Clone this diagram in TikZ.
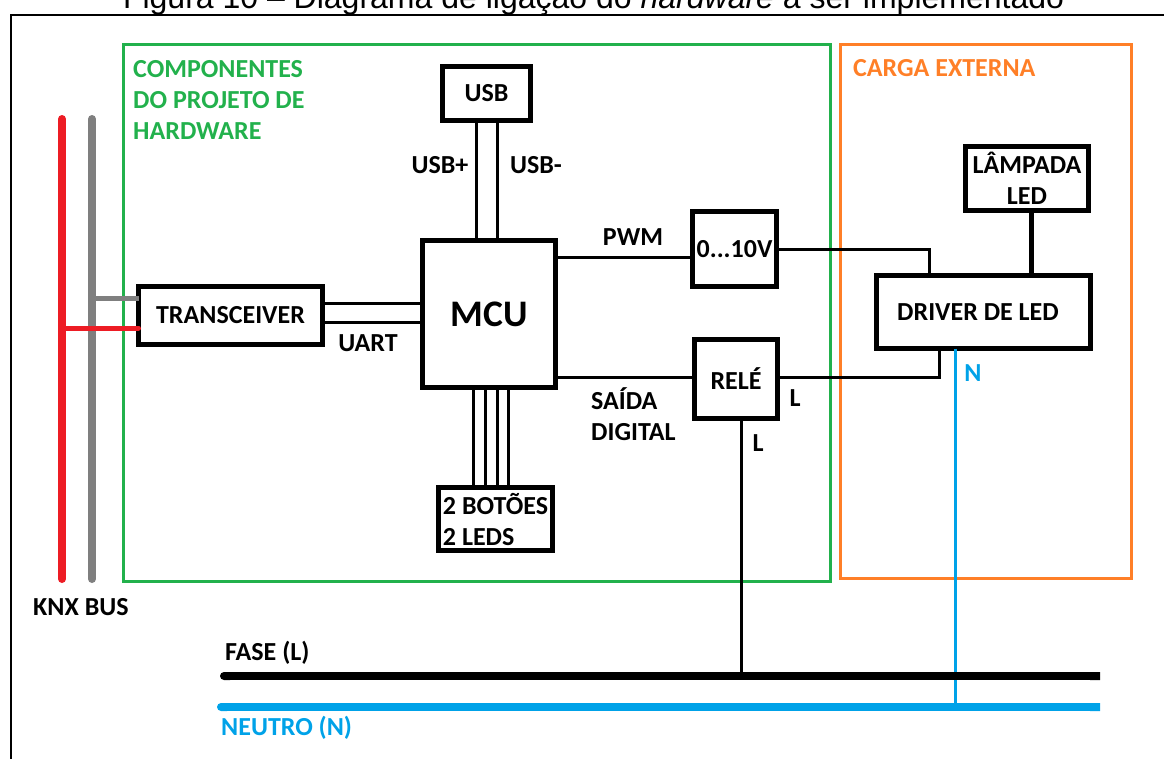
\documentclass[tikz,border=0pt]{standalone}
\usepackage{fontspec}
\setmainfont{Carlito}
\newfontfamily\capfont{Liberation Sans}
\usetikzlibrary{arrows.meta}
\definecolor{pgreen}{RGB}{34,177,76}
\definecolor{porange}{RGB}{255,127,39}
\definecolor{pblue}{RGB}{0,162,232}
\definecolor{pred}{RGB}{237,28,36}
\definecolor{pgray}{RGB}{127,127,127}
\newcommand{\labfont}{\bfseries\fontsize{26}{31}\selectfont}
\begin{document}
\begin{tikzpicture}[x=1pt,y=-1pt,
  box/.style={draw, line width=5pt, inner sep=0pt, outer sep=0pt, font=\labfont},
  wire/.style={line width=3pt},
  lbl/.style={font=\labfont, inner sep=0pt},
  frame/.style={line width=3pt}]
\useasboundingbox (0,0) rectangle (1164,758);
\clip (0,0) rectangle (1164,758);

% caption (cut off at top)
\node[anchor=base, inner sep=0pt, font=\capfont\fontsize{32}{38}\selectfont] (cap) at (593.5,8)
  {Figura 10 – Diagrama de ligação do \textit{hardware} a ser implementado};
% outer frame
\draw[line width=2pt] (11,800) -- (11,15) -- (1200,15);

% group frames
\draw[frame, pgreen] (123,44) rectangle (830,581);
\draw[frame, porange] (840,44) rectangle (1131,578);
\node[lbl, text=pgreen, anchor=west, align=left] (comp) at (133,100) {COMPONENTES\\DO PROJETO DE\\HARDWARE};
\node[lbl, text=porange, anchor=west] (carga) at (853,68) {CARGA EXTERNA};

% boxes
\node[box, minimum width=184pt, minimum height=58pt] (trans) at (230.5,315.5) {TRANSCEIVER};
\node[box, minimum width=133pt, minimum height=147pt, font=\bfseries\fontsize{37.5}{40}\selectfont] (mcu) at (489,314) {MCU};
\node[box, minimum width=88pt, minimum height=54pt] (usb) at (486.5,93.5) {USB};
\node[box, minimum width=84pt, minimum height=75pt] (conv) at (734.5,249) {0...10V};
\node[box, minimum width=83pt, minimum height=79pt] (rele) at (736,379) {RELÉ};
\node[box, minimum width=123pt, minimum height=64pt, align=center] (lamp) at (1027,178.5) {LÂMPADA\\LED};
\node[box, minimum width=214pt, minimum height=73pt] (driver) at (983.5,312) {DRIVER DE LED\hspace*{11pt}};
\node[box, minimum width=114pt, minimum height=63pt, align=left] (btn) at (495.5,519) {2 BOTÕES\\2 LEDS};

% KNX bus
\coordinate (redT) at (62,119);
\coordinate (redB) at (62,579);
\coordinate (grayT) at (92,119);
\coordinate (grayB) at (92,579);
\draw[line width=8pt, pred, line cap=round] (redT) -- (redB);
\draw[line width=8pt, pgray, line cap=round] (grayT) -- (grayB);
\draw[line width=5pt, pgray] (grayT |- 0,298) -- (trans.west |- 0,298);
\draw[line width=5pt, pred, line cap=round] (redT |- 0,328) -- (trans.west |- 0,328);
\node[lbl, anchor=west] (knx) at (33,607) {KNX BUS};

% UART
\draw[wire] (trans.east |- 0,303) -- (mcu.west |- 0,303);
\draw[wire] (trans.east |- 0,322) -- (mcu.west |- 0,322);
\node[lbl] (uart) at (368,343) {UART};

% USB
\draw[wire] (usb.south -| 476,0) -- (mcu.north -| 476,0);
\draw[wire] (usb.south -| 497,0) -- (mcu.north -| 497,0);
\node[lbl] (usbp) at (440,165) {USB+};
\node[lbl] (usbm) at (536,165) {USB-};

% buttons
\foreach \xx in {473,485,497,508}
  \draw[wire] (mcu.south -| \xx,0) -- (btn.north -| \xx,0);

% PWM
\draw[wire] (mcu.east |- 0,257) -- (conv.west |- 0,257);
\node[lbl] (pwm) at (633,237) {PWM};
\draw[wire] (conv.east) -| (driver.north -| 929,0);

% digital out
\draw[wire] (mcu.east |- 0,377) -- (rele.west |- 0,377);
\node[lbl, anchor=west, align=left] (said) at (591,414.5) {SAÍDA\\DIGITAL};
\draw[wire] (rele.east |- 0,377) -| (driver.south -| 939,0);
\node[lbl] (l1) at (795,398) {L};
\node[lbl] (l2) at (758,443) {L};

% lamp
\draw[line width=5pt] (lamp.south -| 1031,0) -- (driver.north -| 1031,0);

% mains
\coordinate (faseL) at (220,676);
\coordinate (faseR) at (1100,676);
\coordinate (neuL) at (217,707);
\coordinate (neuR) at (1100,707);
\draw[wire] (rele.south -| 741,0) -- (faseL -| 741,0);
\draw[wire, pblue] (driver.south -| 955,0) -- (neuL -| 955,0);
\draw[line width=8pt, {Round Cap[]}-{Butt Cap[]}] (faseL) -- (faseR);
\draw[line width=8pt, pblue, {Round Cap[]}-{Butt Cap[]}] (neuL) -- (neuR);
\node[lbl, text=pblue] (nlab) at (973,373) {N};
\node[lbl, anchor=west] (fase) at (225,653) {FASE (L)};
\node[lbl, anchor=west, text=pblue] (neutro) at (221,728) {NEUTRO (N)};
\end{tikzpicture}
\end{document}
